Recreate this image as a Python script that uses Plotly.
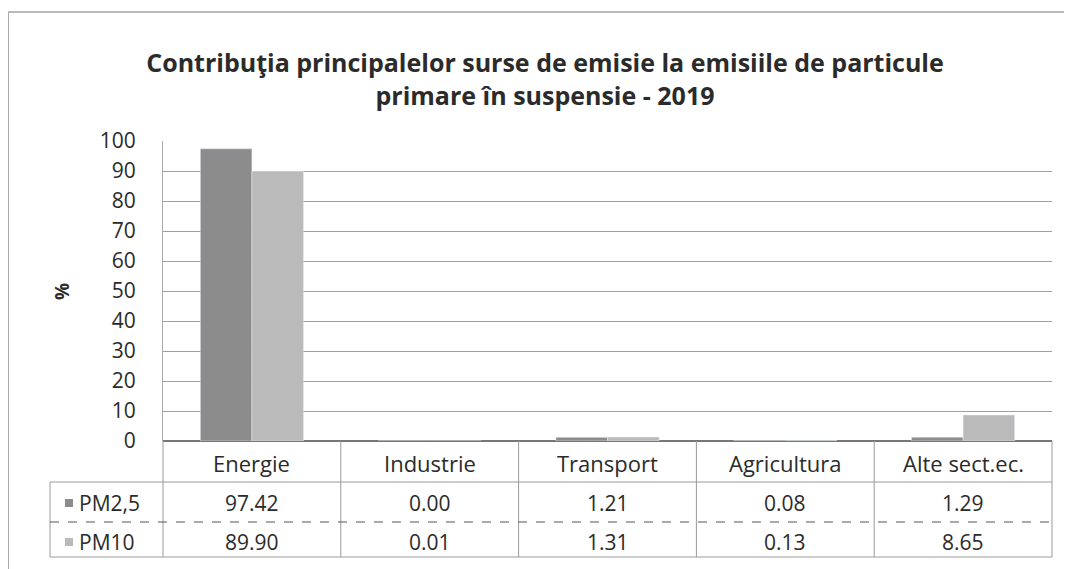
import plotly.graph_objects as go

categories = ["Energie", "Industrie", "Transport", "Agricultura", "Alte sect.ec."]
series_names = ["PM2,5", "PM10"]
pm25 = [97.42, 0.00, 1.21, 0.08, 1.29]
pm10 = [89.90, 0.01, 1.31, 0.13, 8.65]
y_ticks = list(range(0, 101, 10))

colors = ["#8c8c8c", "#bababa"]
FONT = "'Open Sans', sans-serif"
TXT = "#2b2b2b"

W, H = 1072, 569
OFF = 8  # page body margin
# plot area in page pixels: x 163..1052, y 141..441
PX0, PX1, PY0, PY1 = 163, 1052, 141, 441
L, T = PX0 - OFF, PY0 - OFF
R, B = W - (PX1 - OFF), H - (PY1 - OFF)
PW, PH = PX1 - PX0, PY1 - PY0


def px_x(px):
    return (px - PX0) / PW


def px_y(py):
    return (PY1 - py) / PH


def cat_x(i):
    n = len(categories)
    return (i + 0.5) / n


fig = go.Figure()
fig.add_trace(go.Bar(x=categories, y=pm25, name=series_names[0], marker_color=colors[0]))
fig.add_trace(go.Bar(x=categories, y=pm10, name=series_names[1], marker_color=colors[1]))

shapes = []
annotations = []
line_col = "#9a9a9a"

ROW_HDR, LINE1, ROW1, LINE2, ROW2, LINE3 = 463, 482, 503, 522, 542, 557

for i in range(len(categories) + 1):
    xb = cat_x(i - 0.5)
    shapes.append(dict(type="line", xref="paper", yref="paper", x0=xb, x1=xb,
                       y0=px_y(PY1), y1=px_y(LINE3), line=dict(color=line_col, width=1)))
shapes.append(dict(type="line", xref="paper", yref="paper", x0=px_x(50), x1=px_x(50),
                   y0=px_y(LINE1), y1=px_y(LINE3), line=dict(color=line_col, width=1)))
for py, dash, col in [(LINE1, "solid", line_col), (LINE2, "dash", "#555555"), (LINE3, "solid", line_col)]:
    shapes.append(dict(type="line", xref="paper", yref="paper", x0=px_x(50), x1=1,
                       y0=px_y(py), y1=px_y(py), line=dict(color=col, width=1, dash=dash)))
# outer chart border
shapes.append(dict(type="line", xref="paper", yref="paper", x0=px_x(8.5), x1=px_x(8.5),
                   y0=px_y(12), y1=px_y(580), line=dict(color="#aaaaaa", width=1)))
shapes.append(dict(type="line", xref="paper", yref="paper", x0=px_x(8), x1=px_x(1080),
                   y0=px_y(12), y1=px_y(12), line=dict(color="#bbbbbb", width=2)))

TS = 22
for i, c in enumerate(categories):
    annotations.append(dict(text=c, xref="paper", yref="paper", x=cat_x(i), y=px_y(ROW_HDR),
                            showarrow=False, xanchor="center", yanchor="middle",
                            font=dict(family=FONT, size=TS, color=TXT)))
for r, (name, vals, py) in enumerate([(series_names[0], pm25, ROW1), (series_names[1], pm10, ROW2)]):
    shapes.append(dict(type="rect", xref="paper", yref="paper", x0=px_x(65), x1=px_x(73),
                       y0=px_y(py + 4), y1=px_y(py - 4), line=dict(width=0), fillcolor=colors[r]))
    annotations.append(dict(text=name, xref="paper", yref="paper", x=px_x(77), y=px_y(py),
                            showarrow=False, xanchor="left", yanchor="middle",
                            font=dict(family=FONT, size=TS - 1, color=TXT)))
    for i, v in enumerate(vals):
        annotations.append(dict(text=f"{v:.2f}", xref="paper", yref="paper", x=cat_x(i), y=px_y(py),
                                showarrow=False, xanchor="center", yanchor="middle",
                                font=dict(family=FONT, size=TS - 1, color=TXT)))

annotations.append(dict(text="<b>%</b>", xref="paper", yref="paper", x=px_x(62), y=px_y(292),
                        textangle=-90, showarrow=False, xanchor="center", yanchor="middle",
                        font=dict(family=FONT, size=19, color=TXT)))

fig.update_layout(
    width=W, height=H,
    margin=dict(l=L, r=R, t=T, b=B, pad=0),
    paper_bgcolor="white", plot_bgcolor="white",
    barmode="group", bargap=0.42, bargroupgap=0,
    showlegend=False,
    title=dict(text="<b>Contribuţia principalelor surse de emisie la emisiile de particule<br>primare în suspensie - 2019</b>",
               x=(545 - OFF) / W, xref="container", xanchor="center",
               y=1 - (72 - OFF) / H, yref="container", yanchor="middle",
               font=dict(family=FONT, size=25, color=TXT)),
    xaxis=dict(showticklabels=False, showgrid=False, showline=False, zeroline=False,
               range=[-0.5, len(categories) - 0.5]),
    yaxis=dict(range=[0, 100], tickvals=y_ticks, showgrid=True, gridcolor="#a0a0a0",
               gridwidth=1, zeroline=True, zerolinecolor="#777777", showline=True,
               linecolor="#aaaaaa", ticks="", ticklabelstandoff=22,
               tickfont=dict(family=FONT, size=21, color=TXT)),
    shapes=shapes, annotations=annotations,
)

fig.write_html("out.html")
